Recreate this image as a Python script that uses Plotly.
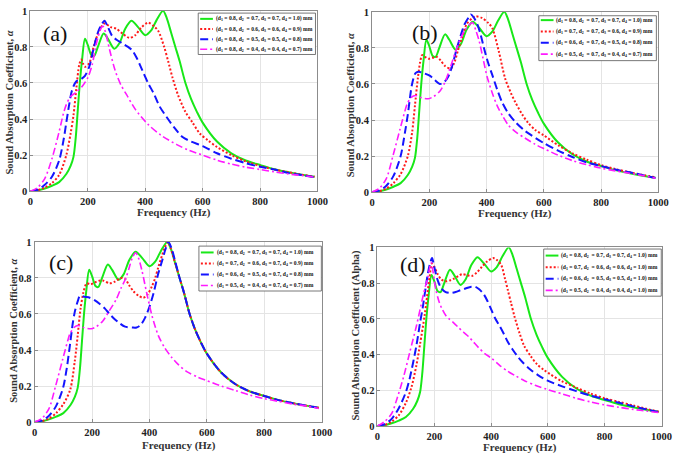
import plotly.graph_objects as go

W, H = 685, 461

FREQ_TICKS = [0, 200, 400, 600, 800, 1000]
ALPHA_TICKS = [0, 0.2, 0.4, 0.6, 0.8, 1.0]
ALPHA_TICK_LABELS = ["0", "0.2", "0.4", "0.6", "0.8", "1"]
PANEL_LABELS = ["(a)", "(b)", "(c)", "(d)"]

# (frequency Hz, absorption coefficient)
GREEN = [(0, 0), (25, 0.005), (50, 0.015), (75, 0.03), (100, 0.05), (125, 0.095), (140, 0.14),
         (150, 0.19), (158, 0.3), (165, 0.45), (172, 0.6), (180, 0.73), (190, 0.845), (200, 0.81),
         (212, 0.755), (222, 0.75), (235, 0.8), (255, 0.875), (270, 0.845), (292, 0.79), (310, 0.82),
         (330, 0.9), (352, 0.945), (375, 0.91), (400, 0.865), (420, 0.89), (440, 0.95), (462, 1.0),
         (475, 0.96), (490, 0.88), (505, 0.8), (520, 0.72), (540, 0.6), (560, 0.51), (580, 0.44),
         (600, 0.38), (650, 0.275), (700, 0.21), (750, 0.17), (800, 0.145), (850, 0.122),
         (900, 0.105), (950, 0.09), (990, 0.08)]

A_RED = [(0, 0), (25, 0.005), (50, 0.02), (75, 0.045), (100, 0.09), (125, 0.2), (140, 0.32),
         (150, 0.42), (160, 0.57), (170, 0.7), (177, 0.73), (184, 0.705), (190, 0.69), (205, 0.71),
         (220, 0.8), (240, 0.89), (258, 0.93), (280, 0.91), (300, 0.9), (320, 0.875), (345, 0.85),
         (365, 0.865), (385, 0.905), (410, 0.935), (430, 0.915), (445, 0.89), (466, 0.8), (480, 0.72),
         (495, 0.63), (515, 0.53), (540, 0.44), (565, 0.38), (590, 0.32), (620, 0.28), (650, 0.245),
         (700, 0.2), (750, 0.165), (800, 0.14), (850, 0.12), (900, 0.105), (950, 0.09), (990, 0.08)]

A_BLUE = [(0, 0), (25, 0.008), (50, 0.035), (75, 0.08), (100, 0.17), (115, 0.28), (125, 0.38),
          (135, 0.48), (145, 0.56), (160, 0.61), (175, 0.62), (190, 0.64), (205, 0.69), (220, 0.79),
          (235, 0.88), (250, 0.93), (258, 0.945), (270, 0.91), (285, 0.86), (300, 0.84), (320, 0.82),
          (340, 0.8), (355, 0.78), (370, 0.74), (390, 0.67), (410, 0.6), (430, 0.54), (450, 0.47),
          (475, 0.41), (500, 0.355), (530, 0.3), (560, 0.275), (600, 0.25), (650, 0.21), (700, 0.18),
          (750, 0.155), (800, 0.135), (850, 0.12), (900, 0.1), (950, 0.088), (990, 0.078)]

A_MAGENTA = [(0, 0), (25, 0.02), (50, 0.07), (75, 0.18), (100, 0.33), (115, 0.43), (125, 0.48),
             (140, 0.525), (160, 0.55), (180, 0.58), (200, 0.63), (215, 0.7), (230, 0.82), (245, 0.9),
             (253, 0.915), (262, 0.88), (275, 0.79), (295, 0.67), (315, 0.59), (335, 0.535),
             (365, 0.455), (410, 0.37), (455, 0.31), (510, 0.258), (550, 0.228), (600, 0.2),
             (650, 0.172), (700, 0.15), (750, 0.133), (800, 0.12), (850, 0.107), (900, 0.095),
             (950, 0.086), (990, 0.078)]

B_RED = [(0, 0), (25, 0.005), (50, 0.02), (75, 0.05), (100, 0.1), (125, 0.2), (140, 0.33), (150, 0.48),
         (160, 0.63), (168, 0.72), (175, 0.76), (185, 0.75), (197, 0.74), (212, 0.745), (226, 0.75),
         (240, 0.73), (255, 0.7), (275, 0.685), (288, 0.72), (300, 0.785), (315, 0.86), (330, 0.93),
         (350, 0.965), (363, 0.975), (385, 0.965), (405, 0.94), (420, 0.91), (443, 0.78), (465, 0.63),
         (485, 0.55), (500, 0.5), (525, 0.43), (545, 0.385), (570, 0.345), (600, 0.315), (650, 0.26),
         (700, 0.215), (750, 0.18), (800, 0.15), (850, 0.128), (900, 0.11), (950, 0.094), (990, 0.082)]

B_BLUE = [(0, 0), (25, 0.008), (50, 0.035), (75, 0.09), (100, 0.2), (115, 0.33), (125, 0.43), (140, 0.6),
          (152, 0.66), (163, 0.668), (180, 0.66), (203, 0.645), (220, 0.62), (237, 0.6), (252, 0.61),
          (266, 0.64), (280, 0.7), (294, 0.785), (310, 0.87), (323, 0.93), (338, 0.97), (345, 0.985),
          (355, 0.97), (368, 0.93), (380, 0.87), (391, 0.8), (405, 0.72), (420, 0.65), (437, 0.57),
          (454, 0.5), (475, 0.44), (500, 0.39), (530, 0.345), (556, 0.316), (602, 0.27), (650, 0.23),
          (700, 0.195), (750, 0.165), (800, 0.145), (850, 0.125), (900, 0.11), (950, 0.093), (990, 0.078)]

B_MAGENTA = [(0, 0), (25, 0.02), (50, 0.075), (73, 0.2), (98, 0.35), (115, 0.45), (123, 0.49),
             (137, 0.525), (152, 0.536), (170, 0.525), (197, 0.518), (215, 0.53), (237, 0.56),
             (255, 0.61), (271, 0.68), (290, 0.77), (306, 0.84), (325, 0.9), (351, 0.94), (362, 0.9),
             (374, 0.84), (388, 0.74), (402, 0.64), (420, 0.55), (437, 0.48), (457, 0.42), (477, 0.37),
             (505, 0.33), (534, 0.3), (570, 0.265), (602, 0.24), (650, 0.205), (700, 0.175),
             (750, 0.152), (800, 0.133), (850, 0.118), (900, 0.105), (950, 0.09), (990, 0.077)]

C_RED = [(0, 0), (25, 0.005), (50, 0.02), (75, 0.05), (100, 0.1), (124, 0.18), (140, 0.34), (150, 0.48),
         (160, 0.63), (170, 0.72), (181, 0.77), (195, 0.765), (210, 0.775), (225, 0.785), (240, 0.785),
         (261, 0.77), (280, 0.78), (300, 0.8), (315, 0.795), (329, 0.76), (345, 0.725), (363, 0.7),
         (378, 0.69), (392, 0.705), (409, 0.755), (420, 0.8), (431, 0.86), (445, 0.93), (454, 0.97),
         (465, 1.0), (475, 0.96), (490, 0.88), (505, 0.8), (520, 0.72), (540, 0.6), (560, 0.51),
         (580, 0.44), (600, 0.38), (650, 0.275), (700, 0.21), (750, 0.17), (800, 0.145), (850, 0.122),
         (900, 0.105), (950, 0.09), (990, 0.08)]

C_BLUE = [(0, 0), (25, 0.008), (50, 0.035), (75, 0.09), (99, 0.19), (112, 0.3), (124, 0.44), (133, 0.55),
          (141, 0.62), (150, 0.67), (158, 0.7), (175, 0.695), (192, 0.69), (210, 0.675), (226, 0.657),
          (245, 0.63), (261, 0.6), (280, 0.57), (295, 0.55), (315, 0.53), (340, 0.525), (355, 0.525),
          (370, 0.54), (385, 0.58), (400, 0.64), (415, 0.72), (430, 0.82), (445, 0.9), (455, 0.955),
          (466, 1.0), (478, 0.96), (490, 0.89), (505, 0.8), (520, 0.72), (540, 0.6), (560, 0.51),
          (580, 0.44), (600, 0.38), (650, 0.275), (700, 0.21), (750, 0.17), (800, 0.145), (850, 0.122),
          (900, 0.105), (950, 0.09), (990, 0.08)]

C_MAGENTA = [(0, 0), (25, 0.02), (50, 0.075), (73, 0.2), (98, 0.35), (115, 0.45), (123, 0.49),
             (137, 0.525), (152, 0.536), (170, 0.525), (197, 0.518), (215, 0.53), (237, 0.56),
             (261, 0.62), (284, 0.68), (300, 0.74), (318, 0.8), (330, 0.86), (340, 0.91), (352, 0.94),
             (362, 0.91), (374, 0.84), (390, 0.72), (409, 0.59), (431, 0.48), (454, 0.41), (477, 0.36),
             (500, 0.32), (530, 0.28), (568, 0.25), (600, 0.23), (650, 0.2), (700, 0.175), (750, 0.15),
             (800, 0.13), (850, 0.115), (900, 0.1), (950, 0.088), (990, 0.075)]

D_RED = [(0, 0), (25, 0.006), (50, 0.025), (75, 0.06), (100, 0.13), (120, 0.22), (137, 0.34), (150, 0.46),
         (166, 0.62), (175, 0.73), (183, 0.83), (192, 0.91), (200, 0.89), (212, 0.85), (225, 0.82),
         (240, 0.81), (255, 0.815), (269, 0.825), (285, 0.84), (298, 0.85), (315, 0.845), (332, 0.84),
         (350, 0.86), (367, 0.89), (385, 0.92), (407, 0.94), (420, 0.93), (436, 0.9), (448, 0.83),
         (459, 0.76), (470, 0.69), (482, 0.615), (500, 0.52), (516, 0.45), (540, 0.39), (562, 0.345),
         (585, 0.315), (608, 0.29), (650, 0.25), (700, 0.215), (750, 0.182), (800, 0.155), (850, 0.135),
         (900, 0.115), (950, 0.095), (990, 0.08)]

D_BLUE = [(0, 0), (25, 0.01), (50, 0.04), (75, 0.1), (100, 0.19), (114, 0.27), (137, 0.45), (150, 0.58),
          (160, 0.67), (170, 0.78), (177, 0.85), (185, 0.91), (192, 0.94), (200, 0.89), (212, 0.815),
          (225, 0.77), (240, 0.75), (258, 0.745), (275, 0.75), (292, 0.76), (310, 0.77), (330, 0.78),
          (344, 0.78), (358, 0.765), (373, 0.74), (387, 0.7), (401, 0.65), (415, 0.6), (430, 0.56),
          (445, 0.515), (459, 0.47), (475, 0.43), (493, 0.39), (515, 0.35), (539, 0.315), (565, 0.285),
          (597, 0.255), (650, 0.222), (700, 0.195), (750, 0.17), (800, 0.15), (850, 0.13), (900, 0.11),
          (950, 0.092), (990, 0.077)]

D_MAGENTA = [(0, 0), (25, 0.025), (50, 0.07), (70, 0.16), (91, 0.27), (114, 0.415), (137, 0.56),
             (160, 0.725), (170, 0.79), (177, 0.83), (183, 0.88), (189, 0.916), (195, 0.87), (206, 0.76),
             (218, 0.69), (229, 0.65), (240, 0.62), (252, 0.6), (270, 0.575), (286, 0.55), (303, 0.525),
             (321, 0.5), (338, 0.47), (355, 0.44), (378, 0.405), (401, 0.38), (430, 0.34), (459, 0.306),
             (487, 0.28), (516, 0.255), (555, 0.228), (597, 0.205), (650, 0.18), (700, 0.155),
             (750, 0.135), (800, 0.118), (850, 0.105), (900, 0.093), (950, 0.083), (990, 0.075)]

LEGEND_A = ["(d<sub>1</sub> = 0.8, d<sub>2</sub>  = 0.7, d<sub>3</sub> = 0.7, d<sub>4</sub> = 1.0) mm",
            "(d<sub>1</sub> = 0.8, d<sub>2</sub>  = 0.6, d<sub>3</sub> = 0.6, d<sub>4</sub> = 0.9) mm",
            "(d<sub>1</sub> = 0.8, d<sub>2</sub>  = 0.5, d<sub>3</sub> = 0.5, d<sub>4</sub> = 0.8) mm",
            "(d<sub>1</sub> = 0.8, d<sub>2</sub>  = 0.4, d<sub>3</sub> = 0.4, d<sub>4</sub> = 0.7) mm"]
LEGEND_B = ["(d<sub>1</sub> = 0.8, d<sub>2</sub>  = 0.7, d<sub>3</sub> = 0.7, d<sub>4</sub> = 1.0) mm",
            "(d<sub>1</sub> = 0.7, d<sub>2</sub>  = 0.7, d<sub>3</sub> = 0.6, d<sub>4</sub> = 0.9) mm",
            "(d<sub>1</sub> = 0.6, d<sub>2</sub>  = 0.7, d<sub>3</sub> = 0.5, d<sub>4</sub> = 0.8) mm",
            "(d<sub>1</sub> = 0.5, d<sub>2</sub>  = 0.7, d<sub>3</sub> = 0.4, d<sub>4</sub> = 0.7) mm"]
LEGEND_C = ["(d<sub>1</sub> = 0.8, d<sub>2</sub>  = 0.7, d<sub>3</sub> = 0.7, d<sub>4</sub> = 1.0) mm",
            "(d<sub>1</sub> = 0.7, d<sub>2</sub>  = 0.6, d<sub>3</sub> = 0.7, d<sub>4</sub> = 0.9) mm",
            "(d<sub>1</sub> = 0.6, d<sub>2</sub>  = 0.5, d<sub>3</sub> = 0.7, d<sub>4</sub> = 0.8) mm",
            "(d<sub>1</sub> = 0.5, d<sub>2</sub>  = 0.4, d<sub>3</sub> = 0.7, d<sub>4</sub> = 0.7) mm"]
LEGEND_D = ["(d<sub>1</sub> = 0.8, d<sub>2</sub>  = 0.7, d<sub>3</sub> = 0.7, d<sub>4</sub> = 1.0) mm",
            "(d<sub>1</sub> = 0.7, d<sub>2</sub>  = 0.6, d<sub>3</sub> = 0.6, d<sub>4</sub> = 1.0) mm",
            "(d<sub>1</sub> = 0.6, d<sub>2</sub>  = 0.5, d<sub>3</sub> = 0.5, d<sub>4</sub> = 1.0) mm",
            "(d<sub>1</sub> = 0.5, d<sub>2</sub>  = 0.4, d<sub>3</sub> = 0.4, d<sub>4</sub> = 1.0) mm"]

Y_TITLES = ["Sound Absorption Coefficient, <i>α</i>", "Sound Absorption Coefficient, <i>α</i>",
            "Sound Absorption Coefficient, <i>α</i>", "Sound Absorption Coefficient (Alpha)"]
X_TITLE = "Frequency (Hz)"

PANEL_SERIES = [[GREEN, A_RED, A_BLUE, A_MAGENTA],
                [GREEN, B_RED, B_BLUE, B_MAGENTA],
                [GREEN, C_RED, C_BLUE, C_MAGENTA],
                [GREEN, D_RED, D_BLUE, D_MAGENTA]]
PANEL_LEGENDS = [LEGEND_A, LEGEND_B, LEGEND_C, LEGEND_D]

# ---- styling / layout ----
COLORS = ["#18e818", "#ff1a1a", "#1414ff", "#ff1aff"]
DASHES = ["solid", "2px,2px", "8px,4px", "7px,3px,2px,3px"]
WIDTHS = [2.0, 2.0, 2.0, 1.6]

# plot-area boxes in pixels (x0, y0, x1, y1)
BOXES = [(28, 6, 321, 190.7), (376.7, 7, 669, 191.7),
         (32.3, 242.7, 325.3, 427.3), (382.3, 248.3, 672.3, 431.3)]
LEG_BOXES = [(199.3, 8.3, 319, 50.7), (547, 11, 667, 57),
             (200, 247, 325, 293), (552, 250, 672, 298.3)]
LEG_ROWS = [(14.2, 10.4), (15.5, 11.6), (253.5, 11.3), (256.7, 11.9)]
LABEL_POS = [(53, 29), (431, 28), (59, 264), (419, 266)]
YT_POS = [(7, 100), (355, 103), (10, 334), (360, 338)]
XT_POS = [(175, 213), (523, 214), (180, 451), (528, 453.7)]

SERIF = "Liberation Serif"


def px(x):
    return x / W


def py(y):
    return 1 - y / H


fig = go.Figure()
shapes = []
annotations = []

for i in range(4):
    ax = "" if i == 0 else str(i + 1)
    for s, series in enumerate(PANEL_SERIES[i]):
        f = [p[0] for p in series]
        a = [p[1] for p in series]
        fig.add_trace(go.Scatter(
            x=f, y=a, mode="lines", line=dict(color=COLORS[s], width=WIDTHS[s], dash=DASHES[s],
                                              shape="spline", smoothing=0.8),
            showlegend=False, xaxis="x" + ax, yaxis="y" + ax,
            name=PANEL_LEGENDS[i][s]))
    x0, y0, x1, y1 = BOXES[i]
    axis_common = dict(showline=True, linecolor="#8c8c8c", linewidth=1, mirror=True,
                       ticks="inside", ticklen=3, tickcolor="#8c8c8c",
                       showgrid=True, gridcolor="#e4e4e4", gridwidth=1, zeroline=False,
                       tickfont=dict(family=SERIF, size=10.5, color="#222", weight="bold"))
    fig.update_layout(**{
        "xaxis" + ax: dict(domain=[px(x0), px(x1)], range=[0, 1000], tickvals=FREQ_TICKS,
                           anchor="y" + ax, **axis_common),
        "yaxis" + ax: dict(domain=[py(y1), py(y0)], range=[0, 1], tickvals=ALPHA_TICKS,
                           ticktext=ALPHA_TICK_LABELS, anchor="x" + ax, **axis_common),
    })
    # panel label
    lx, ly = LABEL_POS[i]
    annotations.append(dict(x=px(lx), y=py(ly), xref="paper", yref="paper", text=PANEL_LABELS[i],
                            showarrow=False, font=dict(family=SERIF, size=22, color="#111"),
                            xanchor="center", yanchor="middle"))
    # axis titles
    tx, ty = YT_POS[i]
    annotations.append(dict(x=px(tx), y=py(ty), xref="paper", yref="paper", text=Y_TITLES[i],
                            showarrow=False, textangle=-90,
                            font=dict(family=SERIF, size=10.5, color="#333", weight="bold"),
                            xanchor="center", yanchor="middle"))
    tx, ty = XT_POS[i]
    annotations.append(dict(x=px(tx), y=py(ty), xref="paper", yref="paper", text=X_TITLE,
                            showarrow=False,
                            font=dict(family=SERIF, size=11, color="#333", weight="bold"),
                            xanchor="center", yanchor="middle"))
    # legend box
    bx0, by0, bx1, by1 = LEG_BOXES[i]
    shapes.append(dict(type="rect", xref="paper", yref="paper", x0=px(bx0), x1=px(bx1),
                       y0=py(by1), y1=py(by0), line=dict(color="#555", width=0.8),
                       fillcolor="white", layer="above"))
    r0, dr = LEG_ROWS[i]
    for s in range(4):
        ry = r0 + s * dr
        shapes.append(dict(type="line", xref="paper", yref="paper", x0=px(bx0 + 2), x1=px(bx0 + 15),
                           y0=py(ry), y1=py(ry),
                           line=dict(color=COLORS[s], width=WIDTHS[s], dash=DASHES[s]), layer="above"))
        annotations.append(dict(x=px(bx0 + 16), y=py(ry), xref="paper", yref="paper",
                                text=PANEL_LEGENDS[i][s], showarrow=False,
                                font=dict(family=SERIF, size=5.6, color="#111", weight="bold"),
                                xanchor="left", yanchor="middle"))

fig.update_layout(width=W, height=H, margin=dict(l=0, r=0, t=0, b=0),
                  paper_bgcolor="white", plot_bgcolor="white",
                  shapes=shapes, annotations=annotations, showlegend=False)

fig.write_html("out.html", config={"displayModeBar": False},
               post_script="document.body.style.margin='0px';document.body.style.padding='0px';"
                           "document.documentElement.style.overflow='hidden';")
